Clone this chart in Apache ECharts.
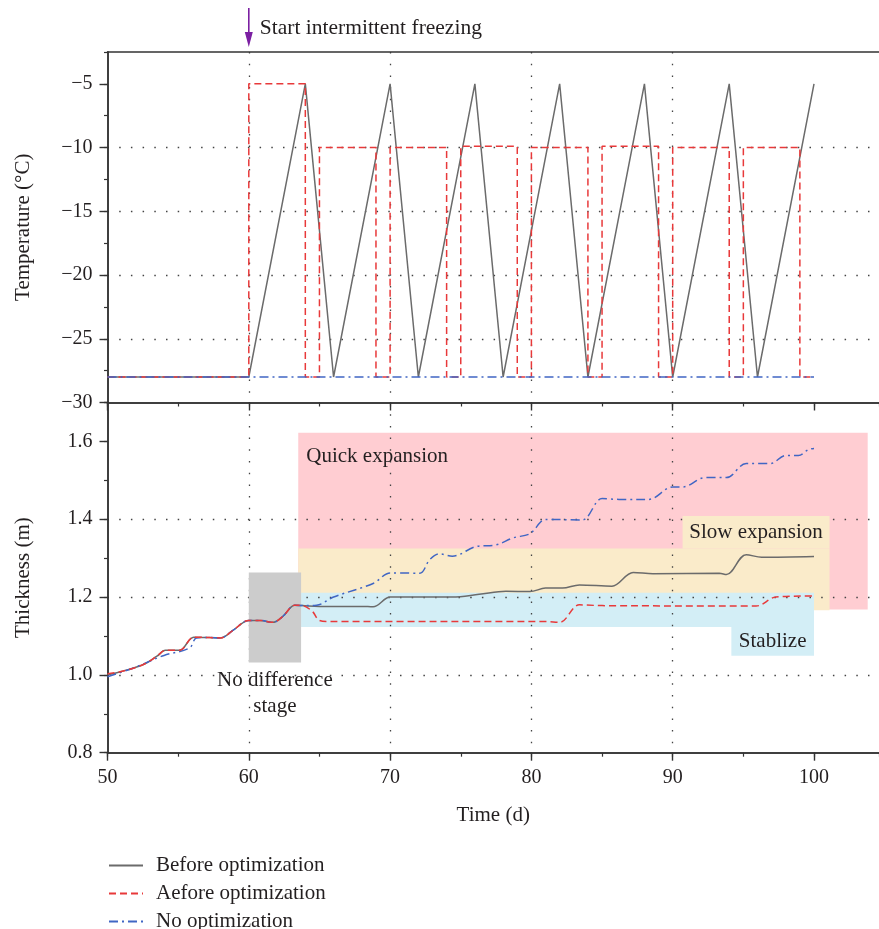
<!DOCTYPE html>
<html>
<head>
<meta charset="utf-8">
<script src="https://cdn.jsdelivr.net/npm/echarts@6/dist/echarts.min.js"></script>
<style>
  html, body { margin: 0; padding: 0; background: #fff; }
  #chart { width: 879px; height: 929px; }
</style>
</head>
<body>
<div id="chart"></div>
<script>
const seriesNames = ['Before optimization', 'Aefore optimization', 'No optimization'];

// temperature, top panel
const tempBeforeDay = [50, 60, 64, 66, 70, 72, 76, 78, 82, 84, 88, 90, 94, 96, 100];
const tempBefore = [-28, -28, -5, -28, -5, -28, -5, -28, -5, -28, -5, -28, -5, -28, -5];
const tempAfterDay = [50, 60, 64, 65, 69, 70, 74, 75, 79, 80, 84, 85, 89, 90, 94, 95, 99, 100];
const tempAfter = [-28, -5, -28, -10, -28, -10, -28, -9.9, -28, -10, -28, -9.9, -28, -10, -28, -10, -28, -28];
const tempNoneDay = [50, 100];
const tempNone = [-28, -28];

// thickness, bottom panel
const thickBeforeDay = [50, 50.9, 52.5, 53.5, 54.1, 55.1, 56.1, 57.2, 58, 58.9, 60, 60.8, 61.7, 62.4, 63.25, 63.8, 65, 68, 68.8, 70, 71, 74.4, 76.3, 78.2, 79.9, 81, 82.2, 83.4, 85.7, 87.2, 88.6, 93.3, 93.8, 95.2, 96.3, 100];
const thickBefore = [1.0, 1.008, 1.026, 1.048, 1.063, 1.063, 1.097, 1.096, 1.095, 1.115, 1.14, 1.14, 1.135, 1.15, 1.179, 1.178, 1.176, 1.176, 1.175, 1.2, 1.2, 1.2, 1.207, 1.215, 1.214, 1.223, 1.223, 1.231, 1.228, 1.263, 1.26, 1.261, 1.258, 1.309, 1.302, 1.304];
const thickAfterDay = [50, 50.9, 52.5, 53.5, 54.1, 55.1, 56.1, 57.2, 58, 58.9, 60, 60.8, 61.7, 62.4, 63.25, 63.8, 64.5, 65, 65.7, 66.5, 81, 82, 83.4, 85, 95.9, 97.3, 100];
const thickAfter = [1.003, 1.008, 1.026, 1.048, 1.063, 1.063, 1.097, 1.096, 1.095, 1.115, 1.14, 1.14, 1.135, 1.15, 1.179, 1.178, 1.163, 1.14, 1.137, 1.137, 1.137, 1.135, 1.18, 1.178, 1.177, 1.2, 1.203];
const thickNoneDay = [50, 52, 54, 55.8, 56.3, 57.2, 58, 58.9, 60, 60.8, 61.7, 62.4, 63.25, 63.8, 64.8, 66, 68.8, 70, 70.7, 72.1, 72.8, 73.5, 74.4, 76.1, 77.5, 78.7, 79.9, 81, 82.2, 83.6, 85, 86.2, 88.3, 90, 90.7, 92.3, 93.8, 95.2, 96.9, 98, 98.9, 99.6, 100];
const thickNone = [0.995, 1.02, 1.05, 1.069, 1.095, 1.096, 1.095, 1.115, 1.14, 1.14, 1.135, 1.15, 1.179, 1.178, 1.179, 1.2, 1.235, 1.262, 1.262, 1.261, 1.296, 1.311, 1.305, 1.33, 1.334, 1.352, 1.363, 1.399, 1.399, 1.398, 1.453, 1.451, 1.451, 1.483, 1.483, 1.507, 1.507, 1.543, 1.543, 1.564, 1.564, 1.579, 1.582];

const tempTicks = [-30, -25, -20, -15, -10, -5];
const thickTicks = [0.8, 1.0, 1.2, 1.4, 1.6];
const dayTicks = [50, 60, 70, 80, 90, 100];

// shaded stages as [x0, y0, x1, y1]
const stageBack = [[63.5, 1.168, 103.8, 1.622], [63.5, 1.166, 101.1, 1.325], [63.7, 1.123, 100, 1.211]];
const stageFront = [[90.7, 1.325, 101.1, 1.408], [94.15, 1.049, 100, 1.123], [60.0, 1.032, 63.7, 1.263]];
const stageLabels = ['Quick expansion', 'Slow expansion', 'Stablize', 'No difference\nstage'];
const freezeStart = [60, -2.5];
const freezeText = 'Start intermittent freezing';

const backFill = ['#ffcdd2', '#faebca', '#d3eef6'];
const frontFill = ['#faebca', '#d3eef6', '#cccccc'];
const font = 'Liberation Serif';
const ink = '#231f20';

const zip = (xs, ys) => xs.map((x, i) => [x, ys[i]]);

const dotted = { type: [1.5, 10.2], color: '#444', width: 1.3 };
const axisLine = { show: true, onZero: false, lineStyle: { color: '#333', width: 1.5 } };

function minorAxis(grid, pos, min, max, interval, tickLen, extra) {
    return Object.assign({
        type: 'value', gridIndex: grid, position: pos, min: min, max: max, interval: interval,
        axisLine: axisLine,
        axisTick: { show: tickLen > 0, length: tickLen, lineStyle: { color: '#333', width: 1.2 } },
        axisLabel: { show: false },
        splitLine: { show: false }
    }, extra || {});
}

function majorAxis(grid, pos, min, max, interval, ticks, fmt, extra) {
    return Object.assign({
        type: 'value', gridIndex: grid, position: pos, min: min, max: max, interval: interval,
        axisLine: axisLine,
        axisTick: { show: true, length: 8, customValues: ticks, lineStyle: { color: '#333', width: 1.4 } },
        axisLabel: fmt ? {
            show: true, customValues: ticks, fontFamily: font, fontSize: 20, color: ink, margin: 15,
            formatter: fmt
        } : { show: false },
        splitLine: { show: true, showMinLine: false, showMaxLine: false, lineStyle: dotted }
    }, extra || {});
}

const xMin = 50, xMax = 104.6;
const nameStyle = { fontFamily: font, fontSize: 21, color: ink };

const tempFmt = v => (tempTicks.indexOf(v) < 0 ? '' : (v < 0 ? '\u2212' + Math.abs(v) : '' + v));
const thickFmt = v => (thickTicks.some(t => Math.abs(t - v) < 1e-6) ? v.toFixed(1) : '');
const dayFmt = v => (dayTicks.indexOf(v) < 0 ? '' : '' + v);

function rectItem(fills) {
    return function (params, api) {
        const a = api.coord([api.value(0), api.value(3)]);
        const b = api.coord([api.value(2), api.value(1)]);
        return {
            type: 'rect',
            shape: { x: a[0], y: a[1], width: b[0] - a[0], height: b[1] - a[1] },
            style: { fill: fills[params.dataIndex] }
        };
    };
}

// label anchors taken from the stage boxes
const labelAnchors = [
    [stageBack[0][0], stageBack[0][3]],
    [(stageFront[0][0] + stageFront[0][2]) / 2, (stageFront[0][1] + stageFront[0][3]) / 2],
    [(stageFront[1][0] + stageFront[1][2]) / 2, (stageFront[1][1] + stageFront[1][3]) / 2],
    [(stageFront[2][0] + stageFront[2][2]) / 2, stageFront[2][1]]
];

function labelItem(params, api) {
    const p = api.coord([api.value(0), api.value(1)]);
    const i = params.dataIndex;
    let style = { text: stageLabels[i], font: '21px "' + font + '"', fill: ink, lineHeight: 26 };
    if (i === 0) {
        Object.assign(style, { x: p[0] + 8, y: p[1] + 24, align: 'left', verticalAlign: 'middle' });
    } else if (i === 3) {
        Object.assign(style, { x: p[0], y: p[1] + 5, align: 'center', verticalAlign: 'top' });
    } else {
        Object.assign(style, { x: p[0], y: p[1], align: 'center', verticalAlign: 'middle' });
    }
    return { type: 'text', style: style };
}

function freezeItem(params, api) {
    const p = api.coord([api.value(0), api.value(1)]);
    const purple = '#7b1fa2';
    return {
        type: 'group',
        children: [
            { type: 'line', shape: { x1: p[0], y1: p[1] - 44, x2: p[0], y2: p[1] - 18 }, style: { stroke: purple, lineWidth: 1.6 } },
            { type: 'polygon', shape: { points: [[p[0] - 4, p[1] - 20], [p[0] + 4, p[1] - 20], [p[0], p[1] - 5]] }, style: { fill: purple } },
            { type: 'text', style: { text: freezeText, x: p[0] + 11, y: p[1] - 24, font: '21.5px "' + font + '"', fill: ink, align: 'left', verticalAlign: 'middle' } }
        ]
    };
}

const lineStyles = [
    { color: '#6b6b6b', width: 1.5, type: 'solid' },
    { color: '#e8393a', width: 1.5, type: [7, 4] },
    { color: '#4066c4', width: 1.5, type: [9, 4, 2, 4] }
];

const chart = echarts.init(document.getElementById('chart'));

chart.setOption({
    animation: false,
    backgroundColor: '#fff',
    textStyle: { fontFamily: font },
    grid: [
        { left: 107.5, right: 0, top: 52, height: 350.5 },
        { left: 107.5, right: 0, top: 402.5, height: 350.2 }
    ],
    legend: {
        data: seriesNames,
        orient: 'vertical',
        left: 108, top: 855,
        height: 120,
        padding: 0,
        itemWidth: 34, itemHeight: 14, itemGap: 7,
        itemStyle: { opacity: 0 },
        textStyle: { fontFamily: font, fontSize: 21, color: ink, padding: [0, 0, 0, 8] }
    },
    xAxis: [
        minorAxis(0, 'bottom', xMin, xMax, 5, 4),
        majorAxis(0, 'bottom', xMin, xMax, 10, dayTicks, null),
        minorAxis(0, 'top', xMin, xMax, 10, 0),
        minorAxis(1, 'bottom', xMin, xMax, 5, 4),
        majorAxis(1, 'bottom', xMin, xMax, 10, dayTicks, dayFmt, {
            name: 'Time (d)', nameLocation: 'middle', nameGap: 52, nameTextStyle: nameStyle
        })
    ],
    yAxis: [
        minorAxis(0, 'left', -30, -2.5, 2.5, 3.5),
        majorAxis(0, 'left', -30, -2.5, 5, tempTicks, tempFmt, {
            name: 'Temperature (\u00b0C)', nameLocation: 'middle', nameGap: 74, nameTextStyle: nameStyle
        }),
        minorAxis(1, 'left', 0.8, 1.7, 0.1, 3.5),
        majorAxis(1, 'left', 0.8, 1.7, 0.2, thickTicks, thickFmt, {
            name: 'Thickness (m)', nameLocation: 'middle', nameGap: 74, nameTextStyle: nameStyle
        })
    ],
    series: [
        { name: seriesNames[0], type: 'line', xAxisIndex: 1, yAxisIndex: 1, symbol: 'none', lineStyle: lineStyles[0], itemStyle: { color: lineStyles[0].color }, data: zip(tempBeforeDay, tempBefore) },
        { name: seriesNames[1], type: 'line', xAxisIndex: 1, yAxisIndex: 1, symbol: 'none', step: 'end', lineStyle: lineStyles[1], itemStyle: { color: lineStyles[1].color }, data: zip(tempAfterDay, tempAfter) },
        { name: seriesNames[2], type: 'line', xAxisIndex: 1, yAxisIndex: 1, symbol: 'none', lineStyle: lineStyles[2], itemStyle: { color: lineStyles[2].color }, data: zip(tempNoneDay, tempNone) },
        { name: seriesNames[0], type: 'line', xAxisIndex: 4, yAxisIndex: 3, symbol: 'none', smooth: 0.35, lineStyle: lineStyles[0], itemStyle: { color: lineStyles[0].color }, data: zip(thickBeforeDay, thickBefore) },
        { name: seriesNames[2], type: 'line', xAxisIndex: 4, yAxisIndex: 3, symbol: 'none', smooth: 0.35, lineStyle: lineStyles[2], itemStyle: { color: lineStyles[2].color }, data: zip(thickNoneDay, thickNone) },
        { name: seriesNames[1], type: 'line', xAxisIndex: 4, yAxisIndex: 3, symbol: 'none', smooth: 0.35, lineStyle: lineStyles[1], itemStyle: { color: lineStyles[1].color }, data: zip(thickAfterDay, thickAfter) },
        { type: 'custom', xAxisIndex: 4, yAxisIndex: 3, z: -1, silent: true, renderItem: rectItem(backFill), data: stageBack },
        { type: 'custom', xAxisIndex: 4, yAxisIndex: 3, z: 1, silent: true, renderItem: rectItem(frontFill), data: stageFront },
        { type: 'custom', xAxisIndex: 4, yAxisIndex: 3, z: 3, silent: true, renderItem: labelItem, data: labelAnchors },
        { type: 'custom', xAxisIndex: 1, yAxisIndex: 1, z: 3, silent: true, clip: false, renderItem: freezeItem, data: [freezeStart] }
    ]
});

window.addEventListener('resize', () => {
    chart && chart.resize();
});
</script>
</body>
</html>
